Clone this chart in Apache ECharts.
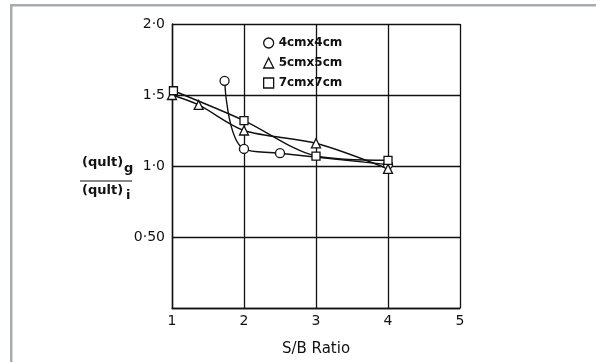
<!DOCTYPE html>
<html>
<head>
<meta charset="utf-8">
<script src="https://cdn.jsdelivr.net/npm/echarts@6/dist/echarts.min.js"></script>
<style>
  html, body { margin: 0; padding: 0; background: #fff; }
  #chart { width: 596px; height: 362px; }
</style>
</head>
<body>
<div id="chart"></div>
<script>
// S/B ratio vs bearing capacity ratio
const seriesNames = ['4cmx4cm', '5cmx5cm', '7cmx7cm'];
const circle4 = [[1.73, 1.60], [2.0, 1.12], [2.5, 1.09], [4.0, 1.01]];
const tri5 = [[1.0, 1.50], [1.37, 1.43], [2.0, 1.25], [3.0, 1.16], [4.0, 0.98]];
const square7 = [[1.02, 1.53], [2.0, 1.32], [3.0, 1.07], [4.0, 1.04]];

const xTicks = ['1', '2', '3', '4', '5'];
const yTickLabels = { '0': '', '0.5': '0·50', '1': '1·0', '1.5': '1·5', '2': '2·0' };

const font = 'DejaVu Sans';
const ink = '#111';

let chart = echarts.init(document.getElementById('chart'), null, { renderer: 'canvas' });

// hollow marker style shared by all series
function marker(sym) {
  return {
    symbol: sym,
    symbolSize: sym === 'rect' ? 8 : 9,
    itemStyle: { color: '#fff', borderColor: ink, borderWidth: 1.3 }
  };
}

function makeSeries(name, data, sym, smooth) {
  return Object.assign({
    name: name,
    type: 'line',
    data: data,
    smooth: smooth,
    showAllSymbol: true,
    lineStyle: { color: ink, width: 1.4 },
    z: 3
  }, marker(sym));
}

let option = {
  animation: false,
  backgroundColor: '#fff',
  grid: { left: 172, right: 136, top: 24, bottom: 51 },
  legend: {
    orient: 'vertical',
    left: 258,
    top: 32,
    itemWidth: 10,
    itemHeight: 10,
    itemGap: 8,
    textStyle: { fontFamily: font, fontSize: 12, fontWeight: 'bold', color: ink },
    data: [
      { name: seriesNames[0], icon: 'circle', itemStyle: { color: '#fff', borderColor: ink, borderWidth: 1.3 } },
      { name: seriesNames[1], icon: 'triangle', itemStyle: { color: '#fff', borderColor: ink, borderWidth: 1.3 } },
      { name: seriesNames[2], icon: 'rect', itemStyle: { color: '#fff', borderColor: ink, borderWidth: 1.3 } }
    ]
  },
  xAxis: {
    type: 'value',
    min: 1,
    max: 5,
    interval: 1,
    name: 'S/B Ratio',
    nameLocation: 'middle',
    nameGap: 34,
    nameTextStyle: { fontFamily: font, fontSize: 15, color: ink },
    axisLine: { lineStyle: { color: ink, width: 1.4 } },
    axisTick: { show: false },
    axisLabel: {
      margin: 6,
      fontFamily: font,
      fontSize: 14,
      color: ink,
      formatter: (v) => xTicks[Math.round(v) - 1]
    },
    splitLine: { show: true, lineStyle: { color: ink, width: 1.3 } }
  },
  yAxis: {
    type: 'value',
    min: 0,
    max: 2,
    interval: 0.5,
    axisLine: { show: true, lineStyle: { color: ink, width: 1.4 } },
    axisTick: { show: false },
    axisLabel: {
      margin: 7,
      fontFamily: font,
      fontSize: 14,
      color: ink,
      formatter: (v) => yTickLabels[String(v)]
    },
    splitLine: { show: true, lineStyle: { color: ink, width: 1.3 } }
  },
  graphic: [
    // grey frame fragment (top + left)
    { type: 'rect', shape: { x: 10, y: 4, width: 600, height: 2.5 }, style: { fill: '#a9acaf' } },
    { type: 'rect', shape: { x: 10, y: 4, width: 2.5, height: 400 }, style: { fill: '#a9acaf' } },
    // y axis title, drawn as a fraction
    { type: 'text', left: 82, top: 156, style: { text: '(qult)', font: 'bold 13px ' + font, fill: ink } },
    { type: 'text', left: 124, top: 162, style: { text: 'g', font: 'bold 13px ' + font, fill: ink } },
    { type: 'line', shape: { x1: 80, y1: 181, x2: 132, y2: 181 }, style: { stroke: ink, lineWidth: 1.2 } },
    { type: 'text', left: 82, top: 184, style: { text: '(qult)', font: 'bold 13px ' + font, fill: ink } },
    { type: 'text', left: 126, top: 189, style: { text: 'i', font: 'bold 13px ' + font, fill: ink } }
  ],
  series: [
    makeSeries(seriesNames[0], circle4, 'circle', 0.45),
    makeSeries(seriesNames[1], tri5, 'triangle', 0.3),
    makeSeries(seriesNames[2], square7, 'rect', 0.3)
  ]
};

chart.setOption(option);
</script>
</body>
</html>
